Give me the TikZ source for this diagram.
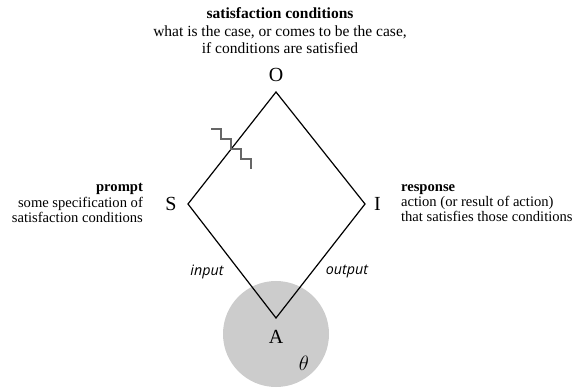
\documentclass[tikz,border=0pt]{standalone}
\usepackage{fontspec}
\setmainfont{Liberation Serif}
\newfontfamily\edgefont{Open Sans}
\usetikzlibrary{positioning,calc}

\begin{document}
\begin{tikzpicture}[x=1pt,y=-1pt,line width=1.2pt,
  corner/.style={font=\fontsize{20}{20}\selectfont,inner sep=0pt},
  topblock/.style={font=\fontsize{15.5}{17.5}\selectfont,inner sep=0pt,align=center},
  sideblock/.style={font=\fontsize{14.6}{15.2}\selectfont,inner sep=0pt},
  edgelabel/.style={font=\edgefont\itshape\fontsize{14.3}{14.3}\selectfont,inner sep=0pt},
  stair/.style={black!60,line width=1.1pt}]
\useasboundingbox (0,0) rectangle (584,390);
% ---- agent ----
\fill[gray!40] (276,334) circle[radius=53pt];
\node[corner] (theta) at (304,363) {$\theta$};
% ---- diamond ----
\coordinate (o) at (276,92);
\coordinate (s) at (188,204);
\coordinate (i) at (365,204);
\coordinate (a) at (276,318);
\draw[line join=miter] (o) -- (i) -- (a) -- (s) -- cycle;
\node[corner,above=10pt of o] (olab) {O};
\node[corner,left=11pt of s] (slab) {S};
\node[corner,right=8.5pt of i] (ilab) {I};
\node[corner,below=12pt of a] (alab) {A};
% ---- break on S--O ----
\coordinate (cut) at ($(o)!0.5!(s)$);
\draw[stair] ($(cut)+(-21,-19)$) \foreach \k in {1,...,4}{ -- ++(10,0) -- ++(0,10)};
% ---- edge labels ----
\node[edgelabel] (inlab) at (207,272) {input};
\node[edgelabel] (outlab) at (347,272) {output};
% ---- texts ----
\node[topblock] (cond) at (280,31)
  {\textbf{satisfaction conditions}\\what is the case, or comes to be the case,\\if conditions are satisfied};
\node[sideblock,align=right,anchor=east] (prompt) at (143.5,203)
  {\textbf{prompt}\\some specification of\\satisfaction conditions};
\node[sideblock,align=left,anchor=west] (resp) at (400.5,203)
  {\textbf{response}\\action (or result of action)\\that satisfies those conditions};
\end{tikzpicture}
\end{document}
